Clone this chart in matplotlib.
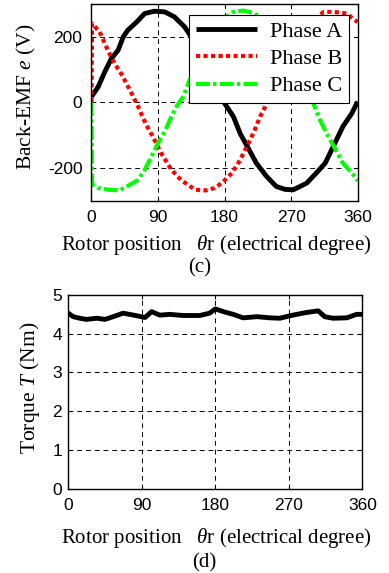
import matplotlib
matplotlib.use("Agg")
import matplotlib.pyplot as plt

plt.rcParams['axes.unicode_minus'] = False
plt.rcParams['mathtext.fontset'] = 'custom'
plt.rcParams['mathtext.rm'] = 'Liberation Serif'
plt.rcParams['mathtext.it'] = 'Liberation Serif:italic'

# ---- Data (c): back-EMF ----
theta_a = [0, 9, 18, 27, 36, 43, 49, 61, 72, 85, 99, 112, 126, 140, 155, 170, 180,
           192, 201, 212, 223, 237, 250, 262, 273, 291, 304, 316, 327, 340, 352, 360]
emf_a = [17, 47, 93, 134, 159, 200, 220, 245, 271, 278, 276, 261, 230, 182, 120, 49, -3,
         -44, -95, -140, -186, -227, -257, -266, -267, -247, -216, -186, -135, -74, -34, 2]

theta_b = [0, 0.7, 11, 22, 31, 40, 52, 63, 74, 83, 94, 108, 121, 140, 155, 166, 176,
           190, 201, 210, 219, 228, 235, 250, 265, 280, 295, 305, 314, 327, 345, 356, 360]
emf_b = [0, 240, 215, 159, 119, 88, 37, -13, -69, -105, -155, -206, -237, -267, -269, -262, -247,
         -216, -176, -135, -94, -44, -13, 63, 132, 192, 237, 259, 276, 276, 271, 251, 245]

theta_c = [0, 0.7, 9, 22, 38, 52, 63, 72, 81, 90, 99, 108, 115, 124, 131, 150, 170,
           192, 205, 219, 240, 255, 270, 285, 300, 309, 318, 329, 340, 354, 360]
emf_c = [0, -250, -262, -267, -269, -252, -237, -206, -166, -125, -90, -44, -13, 17, 58, 160, 240,
         276, 280, 273, 241, 197, 139, 72, -3, -54, -95, -140, -186, -221, -240]

# ---- Data (d): torque ----
theta_t = [0, 6, 14, 22, 35, 45, 55, 67, 80, 94, 102, 112, 124, 141, 161, 173, 180,
           190, 202, 214, 231, 247, 259, 275, 292, 306, 314, 324, 341, 353, 360]
torque = [4.53, 4.44, 4.40, 4.37, 4.40, 4.37, 4.44, 4.53, 4.48, 4.42, 4.57, 4.48, 4.50, 4.47, 4.47, 4.53, 4.64,
          4.57, 4.50, 4.41, 4.44, 4.41, 4.40, 4.48, 4.55, 4.59, 4.44, 4.40, 4.41, 4.50, 4.50]

xticks = [0, 90, 180, 270, 360]
emf_ticks = [-200, 0, 200]
torque_ticks = [0, 1, 2, 3, 4, 5]

serif = 'Liberation Serif'
sans = 'Liberation Sans'
tick_fs = 12.5
label_fs = 15

fig = plt.figure(figsize=(3.89, 5.73), dpi=100)

def style_axes(ax, ypad):
    ax.grid(True, color='black', linestyle=(0, (5, 4)), linewidth=0.7)
    ax.tick_params(direction='in', length=3, width=0.8, top=True, right=True,
                   labelsize=tick_fs)
    ax.tick_params(axis='x', pad=6.5)
    ax.tick_params(axis='y', pad=ypad)
    for lab in ax.get_xticklabels() + ax.get_yticklabels():
        lab.set_fontfamily(sans)
    for sp in ax.spines.values():
        sp.set_linewidth(1.0)
        sp.set_color('black')

# Top axes
ax1 = fig.add_axes([0.2352, 0.650, 0.6843, 0.343])
ax1.plot(theta_a, emf_a, color='black', lw=3.5, label='Phase A', solid_capstyle='butt')
ax1.plot(theta_b, emf_b, color='#ff0000', lw=3.0, linestyle=(0, (1, 0.8)), label='Phase B',
         dash_capstyle='butt')
ax1.plot(theta_c, emf_c, color='#00ff00', lw=3.0, linestyle=(0, (3.3, 0.8, 0.8, 0.8)),
         label='Phase C', dash_capstyle='butt')
ax1.set_xlim(0, 360)
ax1.set_ylim(-300, 300)
ax1.set_xticks(xticks)
ax1.set_yticks(emf_ticks)
style_axes(ax1, 6.5)
leg = ax1.legend(loc='upper right', bbox_to_anchor=(0.967, 0.9455), borderaxespad=0,
                 prop={'family': serif, 'size': 16}, fancybox=False, framealpha=1,
                 edgecolor='black', handlelength=2.75, handletextpad=0.6,
                 labelspacing=0.3, borderpad=0.3)
leg.get_frame().set_linewidth(0.8)

# Bottom axes
ax2 = fig.add_axes([0.1756, 0.1471, 0.7558, 0.3381])
ax2.plot(theta_t, torque, color='black', lw=3.5)
ax2.set_xlim(0, 360)
ax2.set_ylim(0, 5)
ax2.set_xticks(xticks)
ax2.set_yticks(torque_ticks)
style_axes(ax2, 4.5)

fig.text(26 / 389, 1 - 97 / 573, r'Back-EMF $e$ (V)', rotation=90, ha='center', va='center',
         fontfamily=serif, fontsize=label_fs + 0.5)
fig.text(30 / 389, 1 - 388 / 573, r'Torque $T$ (Nm)', rotation=90, ha='center', va='center',
         fontfamily=serif, fontsize=label_fs + 0.5)

xlab = r'Rotor position   $\theta$r (electrical degree)'
fig.text(216 / 389, 1 - 245 / 573, xlab, ha='center', va='center', fontfamily=serif, fontsize=label_fs)
fig.text(200 / 389, 1 - 268 / 573, '(c)', ha='center', va='center', fontfamily=serif, fontsize=label_fs)
fig.text(216 / 389, 1 - 538 / 573, xlab, ha='center', va='center', fontfamily=serif, fontsize=label_fs)
fig.text(204 / 389, 1 - 563 / 573, '(d)', ha='center', va='center', fontfamily=serif, fontsize=label_fs)

fig.savefig('out.png', dpi=100)
